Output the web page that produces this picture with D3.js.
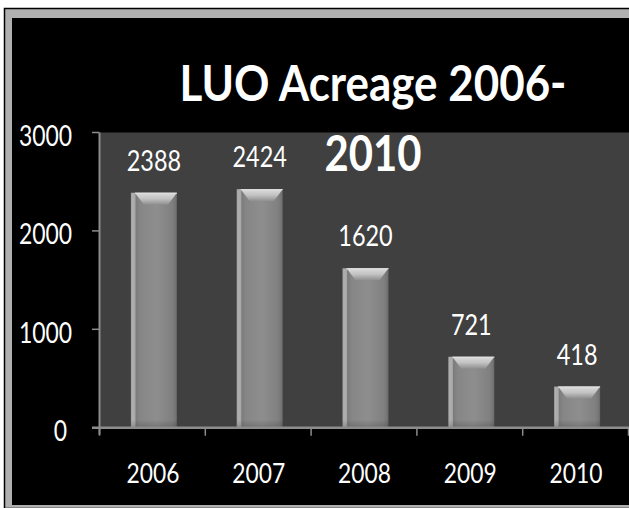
<!DOCTYPE html>
<html><head><meta charset="utf-8">
<script src="https://cdn.jsdelivr.net/npm/d3@7"></script>
<style>html,body{margin:0;padding:0;background:#fff;}svg{display:block;}</style>
</head><body>
<script>
const categories = ["2006","2007","2008","2009","2010"];
const values = [2388, 2424, 1620, 721, 418];
const yTicks = [0, 1000, 2000, 3000];
const titleLines = ["LUO Acreage 2006-", "2010"];

const W = 629, H = 508;
const svg = d3.select("body").append("svg").attr("width", W).attr("height", H);
const defs = svg.append("defs");

// frame
svg.append("rect").attr("x",4.5).attr("y",8.5).attr("width",W).attr("height",H-8)
  .attr("fill","#b0b0b0").attr("stroke","#000").attr("stroke-width",1.5);
svg.append("rect").attr("x",12).attr("y",18).attr("width",W-12).attr("height",505-18).attr("fill","#000");

const x = d3.scaleBand().domain(categories).range([101, 630]).paddingInner(0.565).paddingOuter(0.2825);
const y = d3.scaleLinear().domain([0, 3000]).range([427.7, 132.5]);
const axisX0 = 99.5;

// plot area
svg.append("rect").attr("x",axisX0).attr("y",y(3000)).attr("width",W-axisX0).attr("height",y(0)-y(3000)).attr("fill","#404040");

// gradients
const gH = defs.append("linearGradient").attr("id","barH").attr("x1","0").attr("x2","1").attr("y1","0").attr("y2","0");
[[0,"#9c9c9c"],[0.03,"#b0b0b0"],[0.09,"#a8a8a8"],[0.11,"#7c7c7c"],[0.2,"#868686"],[0.55,"#8e8e8e"],[0.9,"#808080"],[0.97,"#747474"],[1,"#666"]]
  .forEach(([o,c]) => gH.append("stop").attr("offset",o).attr("stop-color",c));
const gT = defs.append("linearGradient").attr("id","barT").attr("x1","0").attr("x2","0").attr("y1","0").attr("y2","1");
[[0,"#dcdcdc"],[0.5,"#c2c2c2"],[1,"#8e8e8e"]].forEach(([o,c]) => gT.append("stop").attr("offset",o).attr("stop-color",c));
const gB = defs.append("linearGradient").attr("id","barB").attr("x1","0").attr("x2","0").attr("y1","0").attr("y2","1");
[[0,"rgba(0,0,0,0)"],[1,"rgba(0,0,0,0.18)"]].forEach(([o,c]) => gB.append("stop").attr("offset",o).attr("stop-color",c));

const data = categories.map((c,i) => ({c, v: values[i]}));
const bars = svg.append("g").selectAll("g").data(data).join("g");
bars.append("rect").attr("x", d => x(d.c)).attr("y", d => y(d.v)).attr("width", x.bandwidth())
  .attr("height", d => y(0) - y(d.v)).attr("fill","url(#barH)");
bars.append("rect").attr("x", d => x(d.c)).attr("y", d => y(0) - 8).attr("width", x.bandwidth())
  .attr("height", 8).attr("fill","url(#barB)");
bars.append("path").attr("d", d => {
  const x0 = x(d.c) + 4, x1 = x(d.c) + x.bandwidth(), t = y(d.v);
  return `M${x0},${t} L${x1},${t} L${x1-9},${t+12} L${x0+9},${t+12} Z`;
}).attr("fill","url(#barT)");
bars.append("line").attr("x1", d => x(d.c)+4).attr("x2", d => x(d.c)+x.bandwidth())
  .attr("y1", d => y(d.v)+0.5).attr("y2", d => y(d.v)+0.5).attr("stroke","#e0e0e0").attr("stroke-width",1);

// data labels
bars.append("text").attr("x", d => x(d.c) + x.bandwidth()/2).attr("y", d => y(d.v) - 22)
  .attr("text-anchor","middle").attr("font-family","Lato, sans-serif").attr("font-size",28)
  .attr("fill","#fff").attr("textLength", d => String(d.v).length*13.6).attr("lengthAdjust","spacingAndGlyphs")
  .text(d => d.v);

// axes lines
const axisCol = "#8c8c8c";
svg.append("line").attr("x1",axisX0).attr("x2",axisX0).attr("y1",y(3000)).attr("y2",y(0)+7).attr("stroke",axisCol).attr("stroke-width",2);
svg.append("line").attr("x1",92).attr("x2",W).attr("y1",y(0)).attr("y2",y(0)).attr("stroke",axisCol).attr("stroke-width",2.5);
svg.append("g").selectAll("line").data(yTicks).join("line")
  .attr("x1",92).attr("x2",axisX0).attr("y1", d => y(d)).attr("y2", d => y(d)).attr("stroke",axisCol).attr("stroke-width",1.5);
const step = x.step();
svg.append("g").selectAll("line").data(d3.range(categories.length+1)).join("line")
  .attr("x1", i => axisX0 + i*step).attr("x2", i => axisX0 + i*step).attr("y1", y(0)).attr("y2", y(0)+8)
  .attr("stroke",axisCol).attr("stroke-width",1.5);

// y labels
svg.append("g").selectAll("text").data(yTicks).join("text")
  .attr("x", d => d === 0 ? 60.5 : 45.5).attr("y", d => y(d) + 13.5)
  .attr("text-anchor","middle").attr("font-family","Lato, sans-serif").attr("font-size",28).attr("fill","#fff")
  .attr("textLength", d => String(d).length*13.3).attr("lengthAdjust","spacingAndGlyphs").text(d => d);

// x labels
svg.append("g").selectAll("text").data(categories).join("text")
  .attr("x", d => x(d) + x.bandwidth()/2 - 1).attr("y", 483)
  .attr("text-anchor","middle").attr("font-family","Lato, sans-serif").attr("font-size",27).attr("fill","#fff")
  .attr("textLength", 53).attr("lengthAdjust","spacingAndGlyphs").text(d => d);

// title
svg.append("text").attr("x",373).attr("y",101).attr("text-anchor","middle")
  .attr("font-family","Lato, sans-serif").attr("font-weight","bold").attr("font-size",50).attr("fill","#fff")
  .attr("textLength",387).attr("lengthAdjust","spacingAndGlyphs").text(titleLines[0]);
svg.append("text").attr("x",373).attr("y",171).attr("text-anchor","middle")
  .attr("font-family","Lato, sans-serif").attr("font-weight","bold").attr("font-size",50).attr("fill","#fff")
  .attr("textLength",97).attr("lengthAdjust","spacingAndGlyphs").text(titleLines[1]);
</script>
</body></html>
